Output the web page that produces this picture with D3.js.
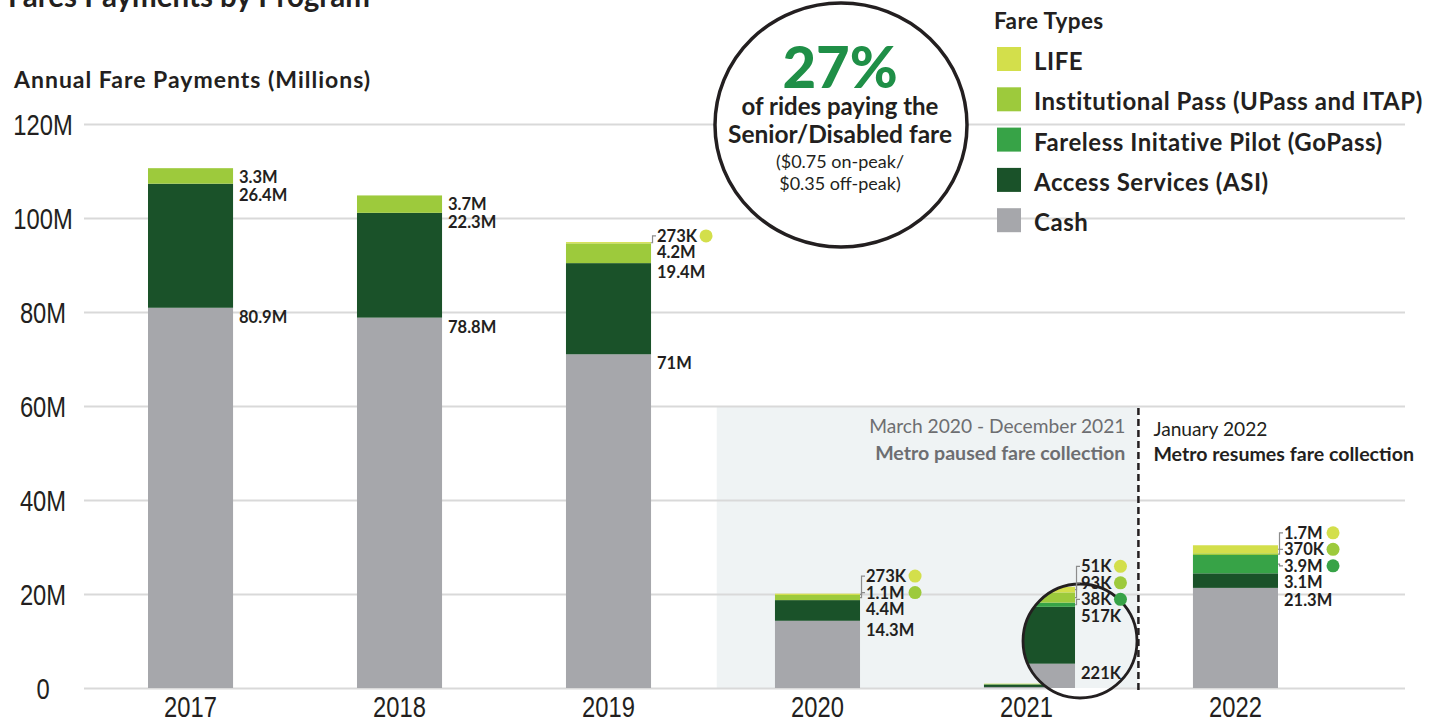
<!DOCTYPE html>
<html>
<head>
<meta charset="utf-8">
<script src="https://cdn.jsdelivr.net/npm/d3@7"></script>
<style>
  body { margin: 0; background: #fff; }
  svg { display: block; }
</style>
</head>
<body>
<svg id="chart" width="1444" height="721"></svg>
<script>
// ---- data (millions of fare payments) ----
const years = ["2017", "2018", "2019", "2020", "2021", "2022"];
const fareTypes = ["Cash", "ASI", "GoPass", "Institutional", "LIFE"]; // stacked bottom to top
const cash          = [80.9, 78.8, 71,    14.3,  0.221, 21.3];
const asi           = [26.4, 22.3, 19.4,  4.4,   0.517, 3.1];
const goPass        = [0,    0,    0,     0,     0.038, 3.9];
const institutional = [3.3,  3.7,  4.2,   1.1,   0.093, 0.37];
const life          = [0,    0,    0.273, 0.273, 0.051, 1.7];
const yTicks = [0, 20, 40, 60, 80, 100, 120];
const legendItems = [
  ["LIFE", "LIFE"],
  ["Institutional", "Institutional Pass (UPass and ITAP)"],
  ["GoPass", "Fareless Initative Pilot (GoPass)"],
  ["ASI", "Access Services (ASI)"],
  ["Cash", "Cash"]
];
const zoomYear = "2021";

// ---- setup ----
const svg = d3.select("#chart");
const ink = "#231f20";
const colors = {
  Cash: "#a6a7ab", ASI: "#1a5229", GoPass: "#37a347",
  Institutional: "#9dca3c", LIFE: "#d3df4b"
};
const series = { Cash: cash, ASI: asi, GoPass: goPass, Institutional: institutional, LIFE: life };

function fontAvailable(name) {
  const c = document.createElement("canvas").getContext("2d");
  c.font = "40px monospace";
  const a = c.measureText("2017 120M").width;
  c.font = `40px '${name}', monospace`;
  const b = c.measureText("2017 120M").width;
  return a !== b;
}
const narrow = fontAvailable("Liberation Sans Narrow");
const tickFamily = narrow ? "'Liberation Sans Narrow'" : "'Liberation Sans'";
const tickScale = narrow ? 1 : 0.82;
const sans = "Lato, 'Open Sans', sans-serif";

const x = d3.scaleBand().domain(years).range([148, 1278]).paddingInner(0.593).paddingOuter(0);
const y = d3.scaleLinear().domain([0, 120]).range([688, 124]);
const yInset = d3.scaleLinear().domain([0, 1]).range([688, 578]);
const gridLeft = 84, gridRight = 1405;

const table = years.map((yr, i) => {
  const o = { year: yr };
  fareTypes.forEach(k => o[k] = series[k][i]);
  return o;
});
const stacked = d3.stack().keys(fareTypes)(table);
const gapW = x.step() - x.bandwidth();

// ---- title ----
svg.append("text").attr("x", 8).attr("y", 7)
  .attr("font-family", sans).attr("font-weight", 700).attr("font-size", 29.5)
  .attr("fill", ink).text("Fares Payments by Program");

svg.append("text").attr("x", 14).attr("y", 88)
  .attr("font-family", sans).attr("font-weight", 700).attr("font-size", 23)
  .attr("letter-spacing", 1)
  .attr("fill", ink).text("Annual Fare Payments (Millions)");

// ---- paused-collection shading ----
const shadeX0 = x("2020") - gapW * 0.47;
const shadeX1 = x("2021") + x.bandwidth() + gapW * 0.56;
svg.append("rect")
  .attr("x", shadeX0).attr("y", y(60))
  .attr("width", shadeX1 - shadeX0).attr("height", y(0) - y(60))
  .attr("fill", "#eff3f4");

// ---- y grid + labels ----
const yAxis = svg.append("g").attr("transform", `translate(${gridLeft},0)`)
  .call(d3.axisLeft(y).tickValues(yTicks).tickSize(-(gridRight - gridLeft))
    .tickPadding(0).tickFormat(d => d === 0 ? "0" : d + "M"));
yAxis.select(".domain").remove();
yAxis.selectAll(".tick line").attr("stroke", "#d9d9d9").attr("stroke-width", 2);
yAxis.selectAll(".tick text")
  .attr("x", 0).attr("dy", "0.36em")
  .attr("text-anchor", "middle")
  .attr("transform", `translate(${43 - gridLeft},0) scale(${tickScale},1)`)
  .attr("font-family", tickFamily).attr("font-size", 29).attr("fill", ink);

// ---- x axis labels ----
const xAxis = svg.append("g").attr("transform", `translate(0,${y(0)})`)
  .call(d3.axisBottom(x).tickSize(0).tickPadding(8));
xAxis.select(".domain").remove();
xAxis.selectAll(".tick text")
  .attr("transform", `scale(${tickScale},1)`)
  .attr("font-family", tickFamily).attr("font-size", 29).attr("fill", ink);

// ---- stacked bars ----
svg.append("g").selectAll("g").data(stacked).join("g")
  .attr("fill", d => colors[d.key])
  .selectAll("rect").data(d => d.filter(s => s[1] - s[0] > 0)).join("rect")
  .attr("x", d => x(d.data.year))
  .attr("y", d => y(d[1]))
  .attr("width", x.bandwidth())
  .attr("height", d => y(d[0]) - y(d[1]));

// ---- resume divider ----
svg.append("line")
  .attr("x1", shadeX1).attr("x2", shadeX1)
  .attr("y1", y(60) + 2).attr("y2", y(0) + 2)
  .attr("stroke", ink).attr("stroke-width", 2.5).attr("stroke-dasharray", "7,4");

svg.append("text").attr("x", shadeX1 - 13).attr("y", 433).attr("text-anchor", "end")
  .attr("font-family", sans).attr("font-size", 19.2).attr("fill", "#6d6e71")
  .text("March 2020 - December 2021");
svg.append("text").attr("x", shadeX1 - 13).attr("y", 460).attr("text-anchor", "end")
  .attr("font-family", sans).attr("font-weight", 700).attr("font-size", 19.6).attr("fill", "#6d6e71")
  .text("Metro paused fare collection");
svg.append("text").attr("x", shadeX1 + 15).attr("y", 436)
  .attr("font-family", sans).attr("font-size", 19.2).attr("fill", ink)
  .text("January 2022");
svg.append("text").attr("x", shadeX1 + 15).attr("y", 461)
  .attr("font-family", sans).attr("font-weight", 700).attr("font-size", 19.6).attr("fill", ink)
  .text("Metro resumes fare collection");

// ---- magnifier for the smallest year ----
const zx = x(zoomYear);
const insetRight = zx + x.bandwidth() + 6;
const mag = { cx: 1080, cy: 641, r: 57 };
svg.append("clipPath").attr("id", "magClip")
  .append("circle").attr("cx", mag.cx).attr("cy", mag.cy).attr("r", mag.r);
const magG = svg.append("g").attr("clip-path", "url(#magClip)");
magG.append("circle").attr("cx", mag.cx).attr("cy", mag.cy).attr("r", mag.r).attr("fill", "#fff");
magG.append("rect").attr("x", mag.cx - mag.r).attr("y", mag.cy - mag.r)
  .attr("width", mag.r * 2).attr("height", y(0) - (mag.cy - mag.r)).attr("fill", "#eff3f4");
const zi = years.indexOf(zoomYear);
magG.selectAll("rect.seg").data(stacked.map(l => ({ key: l.key, s: l[zi] })).filter(d => d.s[1] - d.s[0] > 0))
  .join("rect").attr("class", "seg")
  .attr("x", zx - 30).attr("width", insetRight - (zx - 30))
  .attr("y", d => yInset(d.s[1]))
  .attr("height", d => yInset(d.s[0]) - yInset(d.s[1]))
  .attr("fill", d => colors[d.key]);
svg.append("circle").attr("cx", mag.cx).attr("cy", mag.cy).attr("r", mag.r)
  .attr("fill", "none").attr("stroke", ink).attr("stroke-width", 2.8);

// ---- value labels ----
const fmt = v => v >= 1 ? `${+v.toFixed(1)}M` : `${Math.round(v * 1000)}K`;
const labelG = svg.append("g").attr("font-family", sans).attr("font-weight", 700)
  .attr("font-size", 16.5).attr("fill", ink);
const smallTypes = ["LIFE", "Institutional", "GoPass"];

years.forEach((yr, i) => {
  const sc = yr === zoomYear ? yInset : y;
  const right = yr === zoomYear ? insetRight : x(yr) + x.bandwidth();
  const labelX = right + 6;
  const total = fareTypes.reduce((a, k) => a + series[k][i], 0);
  const segs = [];
  stacked.slice().reverse().forEach(layer => {
    const v = series[layer.key][i];
    if (v <= 0) return;
    const d = layer[i];
    segs.push({
      key: layer.key, v, top: sc(d[1]), bottom: sc(d[0]),
      callout: smallTypes.includes(layer.key) && (total < 50 || v < 1)
    });
  });
  const regular = segs.filter(s => !s.callout);
  const callouts = segs.filter(s => s.callout);
  let prev = -Infinity;
  regular.forEach(s => { s.base = Math.max(s.top + 15, prev + 18); prev = s.base; });
  const firstBase = regular.length ? regular[0].base : segs[segs.length - 1].top + 15;
  callouts.forEach((s, j) => { s.base = firstBase - (callouts.length - j) * 16.5; });

  let maxW = 0;
  segs.forEach(s => {
    const t = labelG.append("text").attr("x", labelX).attr("y", s.base).text(fmt(s.v));
    if (s.callout) maxW = Math.max(maxW, t.node().getComputedTextLength());
  });
  callouts.forEach(s => {
    const mid = s.base - 6;
    const segMid = (s.top + s.bottom) / 2;
    svg.append("path")
      .attr("d", `M${right},${segMid}H${right + 1.5}V${mid}H${labelX - 1}`)
      .attr("fill", "none").attr("stroke", "#8c8c8c").attr("stroke-width", 1.2);
    svg.append("circle").attr("cx", labelX + maxW + 9).attr("cy", mid).attr("r", 6.5)
      .attr("fill", colors[s.key]);
  });
});

// ---- highlight bubble ----
const bubble = svg.append("g");
bubble.append("ellipse").attr("cx", 841).attr("cy", 125).attr("rx", 126).attr("ry", 122)
  .attr("fill", "#fff").attr("stroke", ink).attr("stroke-width", 3.5);
bubble.append("text").attr("x", 840).attr("y", 88).attr("text-anchor", "middle")
  .attr("font-family", sans).attr("font-weight", 900).attr("font-size", 58).attr("fill", "#1f8f47")
  .text("27%");
[["of rides paying the", 115, 24, 700], ["Senior/Disabled fare", 143, 24.5, 700],
 ["($0.75 on-peak/", 168, 18, 400], ["$0.35 off-peak)", 190, 18, 400]].forEach(([t, by, fs, fw]) => {
  bubble.append("text").attr("x", 840).attr("y", by).attr("text-anchor", "middle")
    .attr("font-family", sans).attr("font-weight", fw).attr("font-size", fs).attr("fill", ink).text(t);
});

// ---- legend ----
const legend = svg.append("g").attr("font-family", sans).attr("fill", ink);
legend.append("text").attr("x", 994).attr("y", 29).attr("font-weight", 700).attr("font-size", 22.5)
  .attr("letter-spacing", 0.4).text("Fare Types");
legendItems.forEach(([key, label], i) => {
  const top = 47 + i * 40.3;
  legend.append("rect").attr("x", 997).attr("y", top).attr("width", 24).attr("height", 24)
    .attr("fill", colors[key]);
  legend.append("text").attr("x", 1034).attr("y", top + 23).attr("font-weight", 700)
    .attr("font-size", 24).attr("letter-spacing", 0.55).text(label);
});
</script>
</body>
</html>
